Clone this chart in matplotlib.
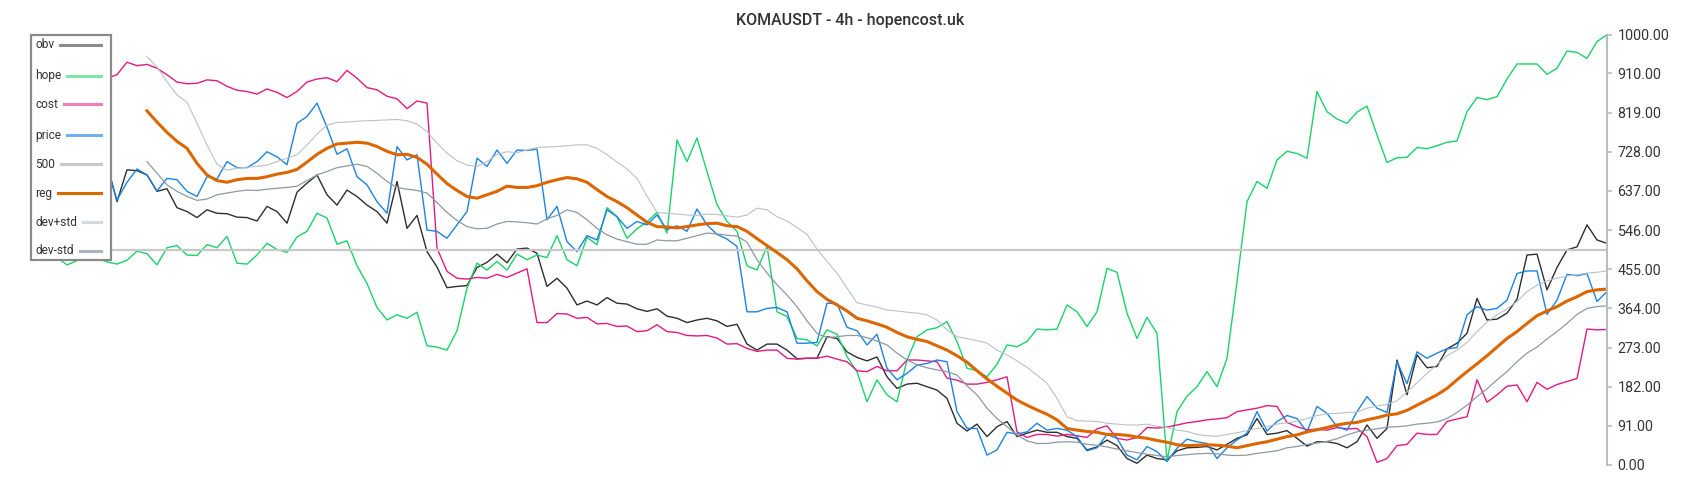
import numpy as np
import matplotlib
matplotlib.use("Agg")
import matplotlib.pyplot as plt
from matplotlib.lines import Line2D
from matplotlib.patches import Rectangle

plt.rcParams['font.family'] = ['Roboto', 'DejaVu Sans']

title = "KOMAUSDT - 4h - hopencost.uk"
yticks = [0, 91, 182, 273, 364, 455, 546, 637, 728, 819, 910, 1000]
nan = np.nan

obv = [650, 665, 680, 670, 660, 690, 700,
       612, 686, 684, 674, 636, 642, 598, 589, 575, 593, 585, 584, 576, 575, 567, 601, 589, 562, 634, 655, 674, 628,
       604, 639, 624, 604, 589, 562, 659, 550, 580, 496, 460, 412, 415, 417, 459, 471, 490, 470, 502, 504, 492, 415,
       434, 411, 372, 381, 372, 389, 376, 374, 363, 357,
       363, 346, 341, 331, 337, 341, 335, 322, 327, 281, 267, 281, 281, 267, 247, 248, 248, 298, 294, 263, 250, 242,
       251, 205, 178, 188, 190, 182, 174, 155, 97, 79,
       95, 66, 89, 101, 66, 74, 81, 76, 76, 66, 62, 35, 42, 58, 45, 15, 4, 23, 15, 12, 33, 40, 41, 43, 35, 48, 62, 70,
       108, 71, 74, 80,
       62, 44, 54, 54, 50, 40, 54, 93, 62, 85, 244, 163, 256, 226, 229, 270, 283, 306, 387, 337, 339, 353, 385, 488,
       490, 407, 459, 500, 507, 558, 523, 515]

hope = [490, 482, 465, 475, 485, 480, 472,
        467, 476, 497, 491, 465, 505, 510, 488, 487, 512, 505, 531, 469, 467, 488, 515, 501, 494, 530, 543, 585, 574,
        513, 521, 463, 422, 366, 337, 349, 341, 355, 277, 274, 267, 312, 411, 469, 453, 473, 453, 490, 477, 488, 482,
        533, 477, 463, 529, 512, 598, 577, 527, 549, 565,
        587, 539, 755, 705, 760, 682, 605, 566, 543, 463, 453, 508, 356, 345, 294, 291, 277, 314, 304, 252, 217, 147,
        198, 163, 147, 244, 298, 314, 319, 333, 287, 225,
        219, 205, 234, 279, 275, 287, 316, 314, 316, 372, 356, 322, 356, 457, 448, 353, 294, 343, 306, 10, 124, 160,
        182, 217, 182, 248, 426, 612, 659, 643, 709, 729,
        724, 713, 868, 821, 804, 794, 820, 834, 767, 703, 714, 715, 738, 735, 742, 750, 753, 821, 854, 849, 856, 897,
        932, 932, 932, 908, 922, 962, 959, 945, 984, 1000]

cost = [890, 895, 900, 893, 897, 899, 899,
        907, 936, 928, 931, 922, 907, 890, 886, 887, 895, 893, 880, 871, 868, 862, 874, 866, 854, 868, 890, 897, 900,
        891, 917, 899, 877, 872, 857, 851, 828, 846, 841, 504, 450, 434, 432, 436, 434, 443, 436, 446, 456, 331, 331,
        352, 351, 341, 343, 328, 329, 322, 323, 310, 312,
        326, 310, 308, 301, 300, 301, 295, 281, 282, 271, 264, 267, 267, 248, 246, 248, 248, 253, 246, 240, 219, 217,
        229, 219, 219, 244, 244, 242, 240, 202, 197, 188,
        188, 192, 198, 205, 77, 64, 71, 71, 67, 71, 68, 64, 84, 91, 62, 58, 64, 87, 86, 88, 93, 98, 101, 105, 107, 110,
        124, 128, 132, 138, 136, 99,
        89, 82, 83, 81, 87, 84, 85, 66, 6, 15, 45, 48, 74, 71, 71, 101, 107, 112, 198, 146, 163, 183, 186, 147, 192,
        176, 187, 194, 201, 316, 314, 315]

price = [690, 700, 680, 670, 690, 700, 690,
         616, 657, 688, 674, 637, 666, 663, 636, 624, 670, 665, 705, 691, 691, 705, 728, 716, 698, 794, 810, 841, 785,
         722, 735, 670, 651, 612, 585, 740, 709, 721, 546, 543, 527, 558, 589, 713, 694, 732, 701, 732, 731, 734, 570,
         601, 519, 496, 533, 523, 593, 577, 550, 566, 558,
         581, 547, 556, 543, 595, 558, 536, 525, 508, 356, 356, 364, 366, 356, 283, 283, 285, 376, 375, 320, 312, 279,
         304, 225, 198, 213, 232, 236, 244, 240, 124, 85,
         85, 23, 35, 76, 72, 77, 97, 81, 85, 81, 66, 33, 40, 71, 62, 23, 12, 43, 31, 8, 39, 60, 54, 50, 15, 40, 58, 74,
         124, 79, 101, 115,
         108, 77, 136, 120, 89, 81, 124, 159, 132, 122, 240, 189, 263, 248, 260, 270, 273, 349, 368, 360, 364, 383,
         445, 451, 451, 350, 383, 443, 440, 445, 380, 403]

level = [500] * len(obv)

reg = [nan] * 10 + [
    823, 797, 773, 752, 736, 701, 674, 661, 657, 663, 666, 666, 670, 676, 680, 687, 704, 722, 736,
    746, 748, 750, 748, 740, 729, 721, 722, 715, 699, 676, 654, 638, 624, 620, 628, 636, 648, 645, 645, 649, 657,
    663, 668, 665, 657, 640, 624, 612, 598, 581, 564,
    554, 553, 551, 554, 558, 561, 562, 556, 554, 543, 526, 510, 494, 477, 456, 428, 403, 385, 372, 358, 341, 335,
    328, 320, 308, 298, 292, 287, 277, 267, 254, 239,
    219, 200, 183, 167, 151, 139, 128, 118, 105, 85, 81, 78, 76, 71, 71, 69, 65, 62, 57, 53, 47, 45, 46, 47, 46, 44,
    40, 45, 50, 54, 60, 66,
    70, 77, 82, 87, 93, 97, 99, 105, 110, 116, 119, 127, 139, 151, 163, 178, 198, 217, 235, 254, 274, 294, 310, 329,
    347, 358, 368, 381, 391, 403, 407, 409]

dev_plus = [nan] * 10 + [
    949, 925, 891, 860, 843, 794, 744, 699, 685, 690, 692, 694, 697, 705, 713, 721, 744, 769, 790,
    796, 797, 799, 800, 801, 802, 803, 800, 792, 775, 748, 725, 707, 697, 694, 705, 722, 728, 726, 732, 738, 739,
    740, 742, 744, 744, 736, 721, 704, 688, 666, 625,
    587, 585, 583, 581, 580, 583, 582, 579, 576, 581, 597, 593, 577, 567, 552, 536, 502, 473, 446, 411, 377, 372,
    367, 360, 358, 355, 353, 349, 337, 314, 298, 294,
    289, 283, 267, 256, 242, 227, 209, 190, 155, 112, 103, 102, 101, 97, 95, 93, 93, 95, 90, 87, 81, 78, 71, 68, 67,
    71, 75, 80, 85, 89, 95, 98,
    102, 108, 115, 119, 120, 122, 123, 132, 137, 141, 149, 170, 191, 213, 234, 254, 267, 285, 310, 332, 349, 363,
    380, 403, 418, 428, 434, 439, 442, 446, 448, 451]

dev_minus = [nan] * 10 + [
    705, 678, 651, 636, 624, 615, 618, 628, 632, 636, 639, 638, 641, 643, 645, 648, 661, 674, 682,
    691, 695, 699, 694, 678, 659, 645, 641, 638, 632, 610, 587, 568, 554, 549, 550, 560, 566, 565, 563, 560, 572,
    580, 593, 587, 570, 550, 535, 525, 519, 513, 513,
    523, 521, 521, 527, 533, 539, 537, 534, 532, 518, 477, 446, 419, 395, 368, 335, 306, 296, 298, 301, 301, 296,
    288, 279, 260, 244, 233, 226, 221, 217, 209, 184,
    163, 132, 108, 89, 70, 56, 50, 50, 53, 54, 53, 48, 46, 42, 37, 33, 29, 25, 22, 19, 22, 24, 26, 27, 26, 23, 22,
    23, 27, 30, 33, 40,
    43, 48, 51, 55, 61, 70, 77, 81, 84, 88, 89, 91, 95, 97, 100, 108, 122, 139, 159, 177, 198, 217, 240, 260, 274,
    293, 310, 329, 350, 364, 368, 370]

labels = ['obv', 'hope', 'cost', 'price', '500', 'reg', 'dev+std', 'dev-std']
series = [obv, hope, cost, price, level, reg, dev_plus, dev_minus]
colors = ['#2e2e2e', '#17d46a', '#e6197f', '#1c83e2', '#c8c8c8', '#dd6600', '#b9c1c8', '#8d99a4']
legend_colors = ['#8c8c8c', '#7ee6a8', '#f07cb8', '#70b2ee', '#c8c8c8', '#d96a00', '#d3d8dc', '#aab4bc']
widths = [1.0, 1.0, 1.0, 1.0, 1.6, 2.2, 0.8, 0.9]

W, H = 1700, 500
fig = plt.figure(figsize=(17, 5), dpi=100)
ax = fig.add_axes([30 / W, 35 / H, (1607 - 30) / W, 430.3 / H])

x = np.arange(len(obv))
for s, c, lw in zip(series, colors, widths):
    ax.plot(x, s, color=c, lw=lw)

ax.set_xlim(-1.7, len(obv) - 1)
ax.set_ylim(0, 1000)
for sp in ['left', 'top', 'bottom']:
    ax.spines[sp].set_visible(False)
ax.spines['right'].set_color('#b3bdc5')
ax.spines['right'].set_linewidth(1.5)
ax.set_xticks([])
ax.yaxis.tick_right()
ax.set_yticks(yticks)
ax.set_yticklabels([f"{v:.2f}" for v in yticks])
ax.tick_params(axis='y', length=3.6, width=1.2, color='#b3bdc5', labelsize=10.3,
               labelcolor='#333333', pad=4)

fig.text(0.5, 1 - 21 / H, title, ha='center', va='center', fontsize=11.5,
         fontweight='medium', color='#333333')

# legend drawn by hand: text on the left, line on the right
fig.add_artist(Rectangle((30.6 / W, (H - 260) / H), 80.4 / W, 225 / H, transform=fig.transFigure,
                         facecolor='white', edgecolor='#8a8a8a', lw=1.6, zorder=5))
rows = [45, 76, 104, 135, 164, 193, 222, 251]
texts = []
for lab, yc in zip(labels, rows):
    t = fig.text(35 / W, (H - yc) / H, lab, ha='left', va='center', fontsize=8.6,
                 color='#333333', zorder=6)
    texts.append(t)
fig.canvas.draw()
r = fig.canvas.get_renderer()
for t, yc, c in zip(texts, rows, legend_colors):
    x0 = t.get_window_extent(r).x1 + 6
    fig.add_artist(Line2D([x0 / W, 101 / W], [(H - yc) / H] * 2, transform=fig.transFigure,
                          color=c, lw=2.2, zorder=6))

fig.savefig('out.png', dpi=100)
